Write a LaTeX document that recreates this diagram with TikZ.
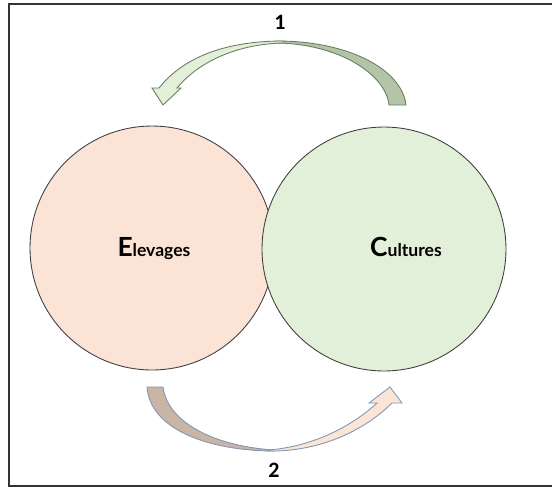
\documentclass[tikz,border=0pt]{standalone}
\usepackage{fontspec}
\setmainfont{Lato}
\newfontfamily\numfont{Carlito}
\definecolor{pinkfill}{HTML}{FBE4D5}
\definecolor{greenfill}{HTML}{E2EFD9}
\definecolor{topdark}{HTML}{B4C4A7}
\definecolor{toplight}{HTML}{E2EFD9}
\definecolor{topline}{HTML}{6B7D61}
\definecolor{botdark}{HTML}{C9B4A6}
\definecolor{botlight}{HTML}{FBE5D6}
\definecolor{botline}{HTML}{8496B0}
\tikzset{
  bigcircle/.style={circle, draw=black!75, line width=0.5pt, minimum size=4.88cm, inner sep=0pt},
  toparrow/.style={draw=topline, line width=0.5pt, line join=miter},
  botarrow/.style={draw=botline, line width=0.5pt, line join=miter},
  numlabel/.style={font=\numfont\bfseries\fontsize{12.5}{13}\selectfont, inner sep=0pt},
  circlabel/.style={font=\bfseries, inner sep=0pt, anchor=base}
}
\begin{document}
\begin{tikzpicture}[x=0.02cm, y=-0.02cm]
\useasboundingbox (0,0) rectangle (552,488);
\begin{scope}
\clip (0,0) rectangle (552,488);
\draw[line width=1.4pt, black!80] (9,4) rectangle (570,486);
\end{scope}
% circles
\node[bigcircle, fill=pinkfill] (elev) at (152,248) {};
\node[bigcircle, fill=greenfill] (cult) at (384,249) {};
\node[circlabel] (elevt) at (154,256) {\fontsize{15}{15}\selectfont E\fontsize{10}{10}\selectfont levages};
\node[circlabel] (cultt) at (406,256) {\fontsize{15}{15}\selectfont C\fontsize{10}{10}\selectfont ultures};
% top arrow 1
\filldraw[toparrow, fill=topdark] (277,41) .. controls (350,41) and (402,70) .. (406,105)
  -- (389,105) .. controls (386,75) and (340,44) .. (277,43) -- cycle;
\filldraw[toparrow, fill=toplight] (159,88) .. controls (185,55) and (230,41) .. (283,41)
  -- (283,43) .. controls (240,44) and (200,60) .. (177,88)
  -- (181,88) -- (163,105) -- (152,88) -- cycle;
% bottom arrow 2
\filldraw[botarrow, fill=botdark] (147,387) .. controls (150,430) and (210,451) .. (275,451)
  -- (275,450) .. controls (220,447) and (168,425) .. (163,387) -- cycle;
\filldraw[botarrow, fill=botlight] (268,451) .. controls (320,452) and (365,430) .. (392,403)
  -- (402,403) -- (390,387) -- (369,403) -- (377,403)
  .. controls (350,428) and (310,447) .. (268,450) -- cycle;
\node[numlabel] (one) at (280,22) {1};
\node[numlabel] (two) at (274,470) {2};
\end{tikzpicture}
\end{document}
